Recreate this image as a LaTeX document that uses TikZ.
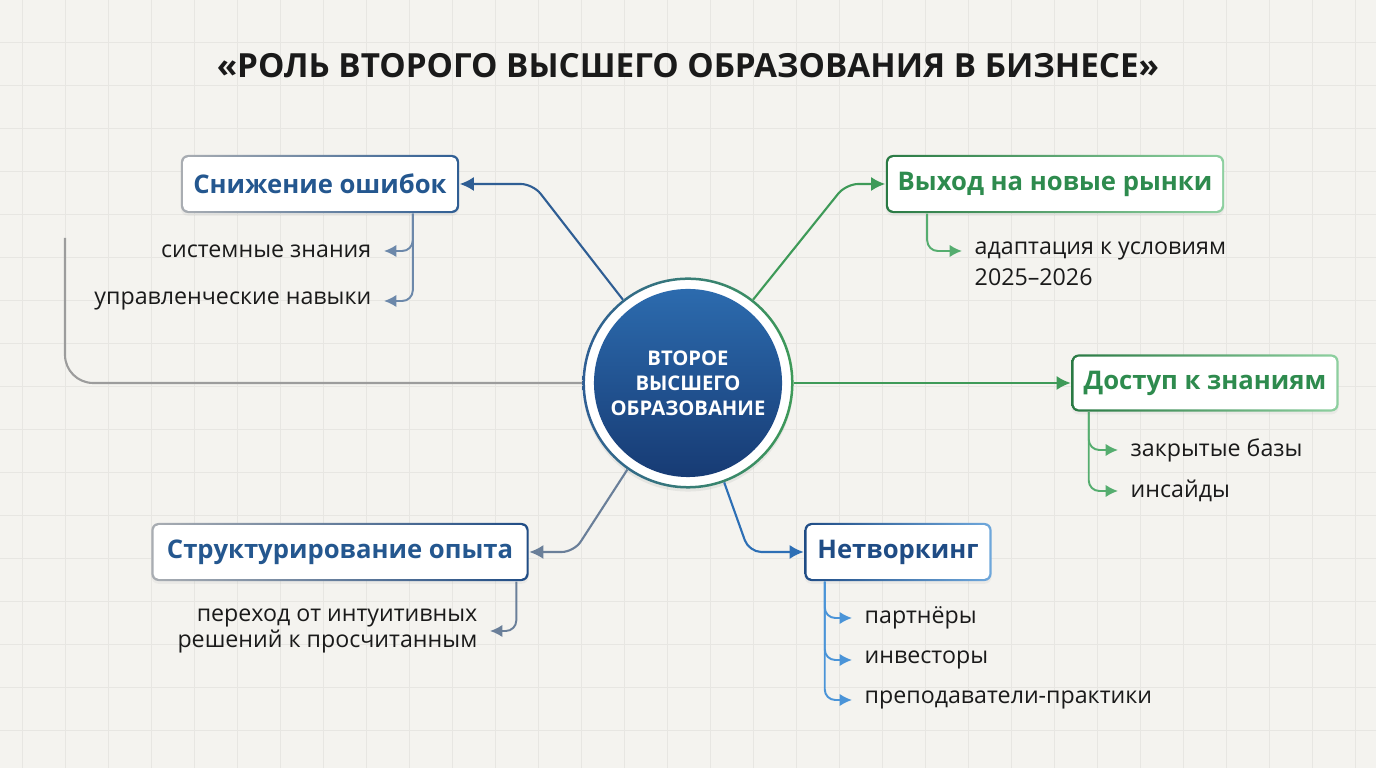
\documentclass[tikz,border=0pt]{standalone}
\usepackage{fontspec}
\setmainfont{Open Sans}
\usetikzlibrary{arrows.meta,calc,shadows}
\definecolor{bgpaper}{HTML}{F4F3EF}
\definecolor{bggrid}{HTML}{E7E6E2}
\definecolor{rlblue}{HTML}{24578F}
\definecolor{rlgreen}{HTML}{2E8B4E}
\definecolor{rlgreendk}{HTML}{2A7A44}
\definecolor{rlgray}{HTML}{A9ADB2}
\definecolor{rlnavy}{HTML}{1F4C85}
\definecolor{rlsky}{HTML}{6FA8DC}
\definecolor{rlleaf}{HTML}{8ED0A0}
\definecolor{rlink}{HTML}{1A1A1A}
\definecolor{cenhi}{HTML}{2C6BAE}
\definecolor{cenlo}{HTML}{173B74}
\definecolor{lnblue}{HTML}{2F5E94}
\definecolor{lngreen}{HTML}{3E9A58}
\definecolor{lnslate}{HTML}{6A7F99}
\definecolor{lnsky}{HTML}{2D6FB5}
\definecolor{sbblue}{HTML}{6C88AA}
\definecolor{sbgreen}{HTML}{55AD6F}
\definecolor{sbsky}{HTML}{4A94D8}
\definecolor{lngray}{HTML}{9C9C9C}
\tikzset{
  hd/.style 2 args={rounded corners=2pt, left color=#1, right color=#2, minimum height=0.58cm, inner sep=0pt,
    font=\fontsize{7.3pt}{8pt}\selectfont\bfseries,
    drop shadow={opacity=0.08, shadow xshift=0pt, shadow yshift=-0.8pt},
    path picture={\fill[white, rounded corners=1.5pt] ([shift={(0.6pt,-0.6pt)}]path picture bounding box.north west) rectangle ([shift={(-0.6pt,0.6pt)}]path picture bounding box.south east);}},
  lf/.style={font=\fontsize{6.6pt}{7.5pt}\selectfont, text=rlink, inner xsep=0.12cm, inner ysep=0pt},
  ln/.style={draw=#1, line width=0.6pt, rounded corners=3.5pt, -{Latex[length=4pt,width=4pt]}},
  sb/.style={draw=#1, line width=0.55pt, rounded corners=3pt, -{Latex[length=3.5pt,width=3.5pt]}},
}
\begin{document}
\begin{tikzpicture}[x=0.01cm, y=-0.01cm]
  \fill[bgpaper] (0,0) rectangle (1376,768);
  \useasboundingbox (0,0) rectangle (1376,768);
  \foreach \gx in {22,65,...,1376} \draw[bggrid, line width=0.25pt] (\gx,0) -- (\gx,768);
  \foreach \gy in {42,85,...,768} \draw[bggrid, line width=0.25pt] (0,\gy) -- (1376,\gy);

  \node[font=\fontsize{9.45pt}{10.5pt}\selectfont\bfseries, text=rlink] (ttl) at (688,66) {«РОЛЬ ВТОРОГО ВЫСШЕГО ОБРАЗОВАНИЯ В БИЗНЕСЕ»};

  \node[circle, minimum size=2.1cm, fill=white, drop shadow={opacity=0.12, shadow xshift=0pt, shadow yshift=-1pt}] (c) at (688,383) {};
  \shade[left color=lnblue, right color=lngreen, even odd rule] (c.center) circle[radius=1.055cm] circle[radius=1.03cm];
  \node[circle, minimum size=1.88cm, top color=cenhi, bottom color=cenlo, text=white, align=center, inner sep=0pt,
    font=\fontsize{5.75pt}{7.1pt}\selectfont\bfseries] (cc) at (c) {ВТОРОЕ\\ВЫСШЕГО\\ОБРАЗОВАНИЕ};

  \node[hd={rlgray}{lnblue}, minimum width=2.78cm, text=rlblue] (sn) at (320,184) {Снижение ошибок};
  \node[hd={rlgreendk}{rlleaf}, minimum width=3.38cm, text=rlgreen] (vy) at (1055,184) {Выход на новые рынки};
  \node[hd={rlgreendk}{rlleaf}, minimum width=2.67cm, minimum height=0.57cm, text=rlgreen] (dz) at (1205,383) {Доступ к знаниям};
  \node[hd={rlgray}{rlnavy}, minimum width=3.77cm, text=rlblue] (so) at (340,552) {Структурирование опыта};
  \node[hd={rlnavy}{rlsky}, minimum width=1.87cm, text=rlnavy] (nt) at (898,552) {Нетворкинг};

  \coordinate (g0) at (65,238);
  \draw[lngray, line width=0.6pt, rounded corners=8pt] (g0) |- (c.west);
  \draw[ln=lnblue] (c.128) -- (533,184) -- (sn.east);
  \draw[ln=lngreen] (c.52) -- (846,184) -- (vy.west);
  \draw[ln=lngreen] (c.east) -- (dz.west);
  \draw[ln=lnslate] (c.235) -- (574,552) -- (so.east);
  \draw[ln=lnsky] (c.290) -- (749,552) -- (nt.west);

  \node[lf, anchor=east] (s1) at (384,251) {системные знания};
  \node[lf, anchor=east] (s2) at (384,301) {управленческие навыки};
  \draw[sb=sbblue] ($(sn.south east)+(-47,0)$) |- (s1.east);
  \draw[sb=sbblue] ($(sn.south east)+(-47,0)$) |- (s2.east);

  \node[lf, anchor=west] (a1) at (962,251) {адаптация к условиям};
  \node[lf, anchor=west] (a2) at (962,277) {2025–2026};
  \draw[sb=sbgreen] ($(vy.south west)+(42,0)$) |- (a1.west);

  \node[lf, anchor=west] (z1) at (1118,450) {закрытые базы};
  \node[lf, anchor=west] (z2) at (1118,491) {инсайды};
  \draw[sb=sbgreen] ($(dz.south west)+(18,0)$) |- (z1.west);
  \draw[sb=sbgreen] ($(dz.south west)+(18,0)$) |- (z2.west);

  \node[lf, anchor=east, align=right] (p1) at (490,631) {переход от интуитивных\\решений к просчитанным};
  \draw[sb=lnslate] ($(so.south east)+(-13,0)$) |- (p1.east);

  \foreach \nm/\ny/\tx in {n1/618/партнёры, n2/660/инвесторы, n3/700/преподаватели-практики}
  {
    \node[lf, anchor=west] (\nm) at (852,\ny) {\tx};
    \draw[sb=sbsky] ($(nt.south west)+(21,0)$) |- (\nm.west);
  }
\end{tikzpicture}
\end{document}
